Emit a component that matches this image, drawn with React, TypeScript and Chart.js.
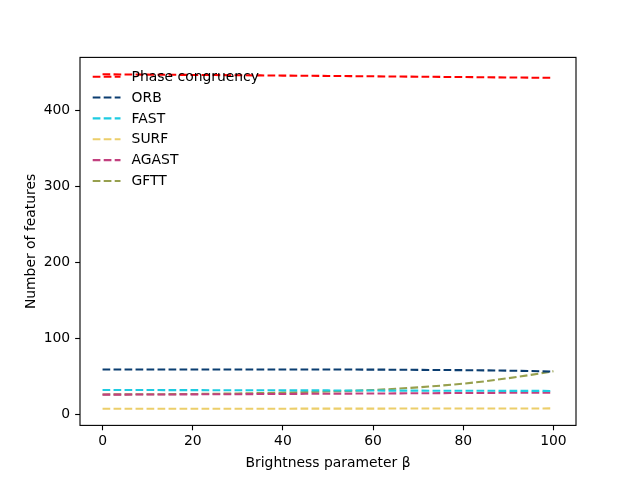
import React, { useEffect, useRef } from "react";
import { Chart, registerables } from "chart.js";

Chart.register(...registerables);

const beta = [0, 5, 10, 15, 20, 25, 30, 35, 40, 45, 50, 55, 60, 65, 70, 75, 80, 85, 90, 95, 100];
const phaseCongruency = [448.0, 447.8, 447.6, 447.4, 447.2, 447.0, 446.8, 446.6, 446.3, 446.1, 445.9, 445.6, 445.4, 445.1, 444.9, 444.6, 444.4, 444.1, 443.9, 443.6, 443.4];
const orb = [59.0, 59.0, 59.0, 59.0, 59.0, 59.0, 59.1, 59.1, 59.1, 59.1, 59.0, 59.0, 58.9, 58.8, 58.6, 58.4, 58.2, 57.9, 57.5, 57.0, 56.3];
const fast = [32.0, 32.0, 32.0, 31.9, 31.9, 31.8, 31.8, 31.7, 31.6, 31.5, 31.5, 31.4, 31.3, 31.2, 31.2, 31.1, 31.0, 31.0, 30.9, 30.9, 30.8];
const surf = [7.3, 7.3, 7.3, 7.3, 7.4, 7.4, 7.4, 7.4, 7.4, 7.5, 7.5, 7.5, 7.5, 7.6, 7.6, 7.6, 7.6, 7.7, 7.7, 7.7, 7.8];
const agast = [26.0, 26.0, 26.1, 26.2, 26.3, 26.4, 26.5, 26.7, 26.8, 27.0, 27.1, 27.3, 27.4, 27.6, 27.8, 27.9, 28.1, 28.2, 28.4, 28.5, 28.6];
const gftt = [26.2, 26.3, 26.4, 26.6, 26.8, 27.1, 27.5, 28.0, 28.6, 29.2, 30.0, 30.9, 32.0, 33.6, 35.5, 37.8, 40.4, 43.6, 47.6, 52.0, 56.8];

const seriesNames = ["Phase congruency", "ORB", "FAST", "SURF", "AGAST", "GFTT"];
const seriesValues = [phaseCongruency, orb, fast, surf, agast, gftt];
const seriesColors = ["#ff0000", "#0b3d70", "#1ecbe1", "#ecce6a", "#c2407f", "#97a04e"];

const xTicks = [0, 20, 40, 60, 80, 100];
const yTicks = [0, 100, 200, 300, 400];
const xTitle = "Brightness parameter β";
const yTitle = "Number of features";

const FONT = "'DejaVu Sans', sans-serif";
const FS = 13.9;
const LW = 2.08;
const DASH = [7.7, 3.3];

const framePlugin = {
  id: "framePlugin",
  afterDatasetsDraw(chart: any) {
    const { ctx, chartArea } = chart;
    // legend
    ctx.save();
    const x0 = 92.7;
    const x1 = 120.5;
    const tx = 131.6;
    chart.data.datasets.forEach((ds: any, i: number) => {
      const y = 76.7 + i * 20.85;
      ctx.beginPath();
      ctx.setLineDash(DASH);
      ctx.lineWidth = LW;
      ctx.strokeStyle = ds.borderColor;
      ctx.lineCap = "butt";
      ctx.moveTo(x0, y);
      ctx.lineTo(x1, y);
      ctx.stroke();
      ctx.setLineDash([]);
      ctx.fillStyle = "#000";
      ctx.font = `${FS}px ${FONT}`;
      ctx.textAlign = "left";
      ctx.textBaseline = "middle";
      ctx.fillText(ds.label, tx, y + 0.5);
    });
    ctx.restore();
  },
  afterDraw(chart: any) {
    const { ctx, chartArea } = chart;
    ctx.save();
    ctx.strokeStyle = "#000";
    ctx.lineWidth = 1.11;
    ctx.setLineDash([]);
    ctx.strokeRect(chartArea.left, chartArea.top, chartArea.right - chartArea.left, chartArea.bottom - chartArea.top);
    ctx.fillStyle = "#000";
    ctx.font = `${FS}px ${FONT}`;
    ctx.textAlign = "center";
    ctx.textBaseline = "alphabetic";
    ctx.fillText(xTitle, (chartArea.left + chartArea.right) / 2, 466.5);
    ctx.translate(34.5, (chartArea.top + chartArea.bottom) / 2);
    ctx.rotate(-Math.PI / 2);
    ctx.fillText(yTitle, 0, 0);
    ctx.restore();
  },
};

export default function App() {
  const ref = useRef<HTMLCanvasElement | null>(null);
  useEffect(() => {
    if (!ref.current) return;
    const chart = new Chart(ref.current, {
      type: "line",
      data: {
        datasets: seriesNames.map((name, i) => ({
          label: name,
          data: beta.map((b, j) => ({ x: b, y: seriesValues[i][j] })),
          borderColor: seriesColors[i],
          backgroundColor: seriesColors[i],
          borderWidth: LW,
          borderDash: DASH,
          borderCapStyle: "butt",
          pointRadius: 0,
          tension: 0,
          fill: false,
        })),
      },
      options: {
        animation: false,
        responsive: false,
        devicePixelRatio: 1,
        layout: { padding: { left: 0, right: 64, top: 57.4, bottom: 0 } },
        plugins: { legend: { display: false }, tooltip: { enabled: false } },
        scales: {
          x: {
            type: "linear",
            min: -5,
            max: 105,
            afterBuildTicks: (s: any) => {
              s.ticks = xTicks.map((v) => ({ value: v }));
            },
            afterFit: (s: any) => {
              s.height = 52.6;
            },
            grid: {
              display: true,
              drawOnChartArea: false,
              drawTicks: true,
              tickLength: 4.86,
              tickColor: "#000",
              tickWidth: 1.11,
              color: "#000",
            },
            border: { display: false },
            ticks: {
              color: "#000",
              font: { family: FONT, size: FS },
              padding: 3,
              maxRotation: 0,
            },
          },
          y: {
            type: "linear",
            min: -14.6,
            max: 470.3,
            afterBuildTicks: (s: any) => {
              s.ticks = yTicks.map((v) => ({ value: v }));
            },
            afterFit: (s: any) => {
              s.width = 80;
            },
            grid: {
              display: true,
              drawOnChartArea: false,
              drawTicks: true,
              tickLength: 4.86,
              tickColor: "#000",
              tickWidth: 1.11,
              color: "#000",
            },
            border: { display: false },
            ticks: {
              color: "#000",
              font: { family: FONT, size: FS },
              padding: 5,
            },
          },
        },
      },
      plugins: [framePlugin],
    } as any);
    return () => chart.destroy();
  }, []);
  return (
    <div style={{ position: "absolute", left: 0, top: 0, width: 640, height: 478, background: "#fff" }}>
      <canvas ref={ref} width={640} height={478} style={{ width: 640, height: 478, display: "block" }} />
    </div>
  );
}
